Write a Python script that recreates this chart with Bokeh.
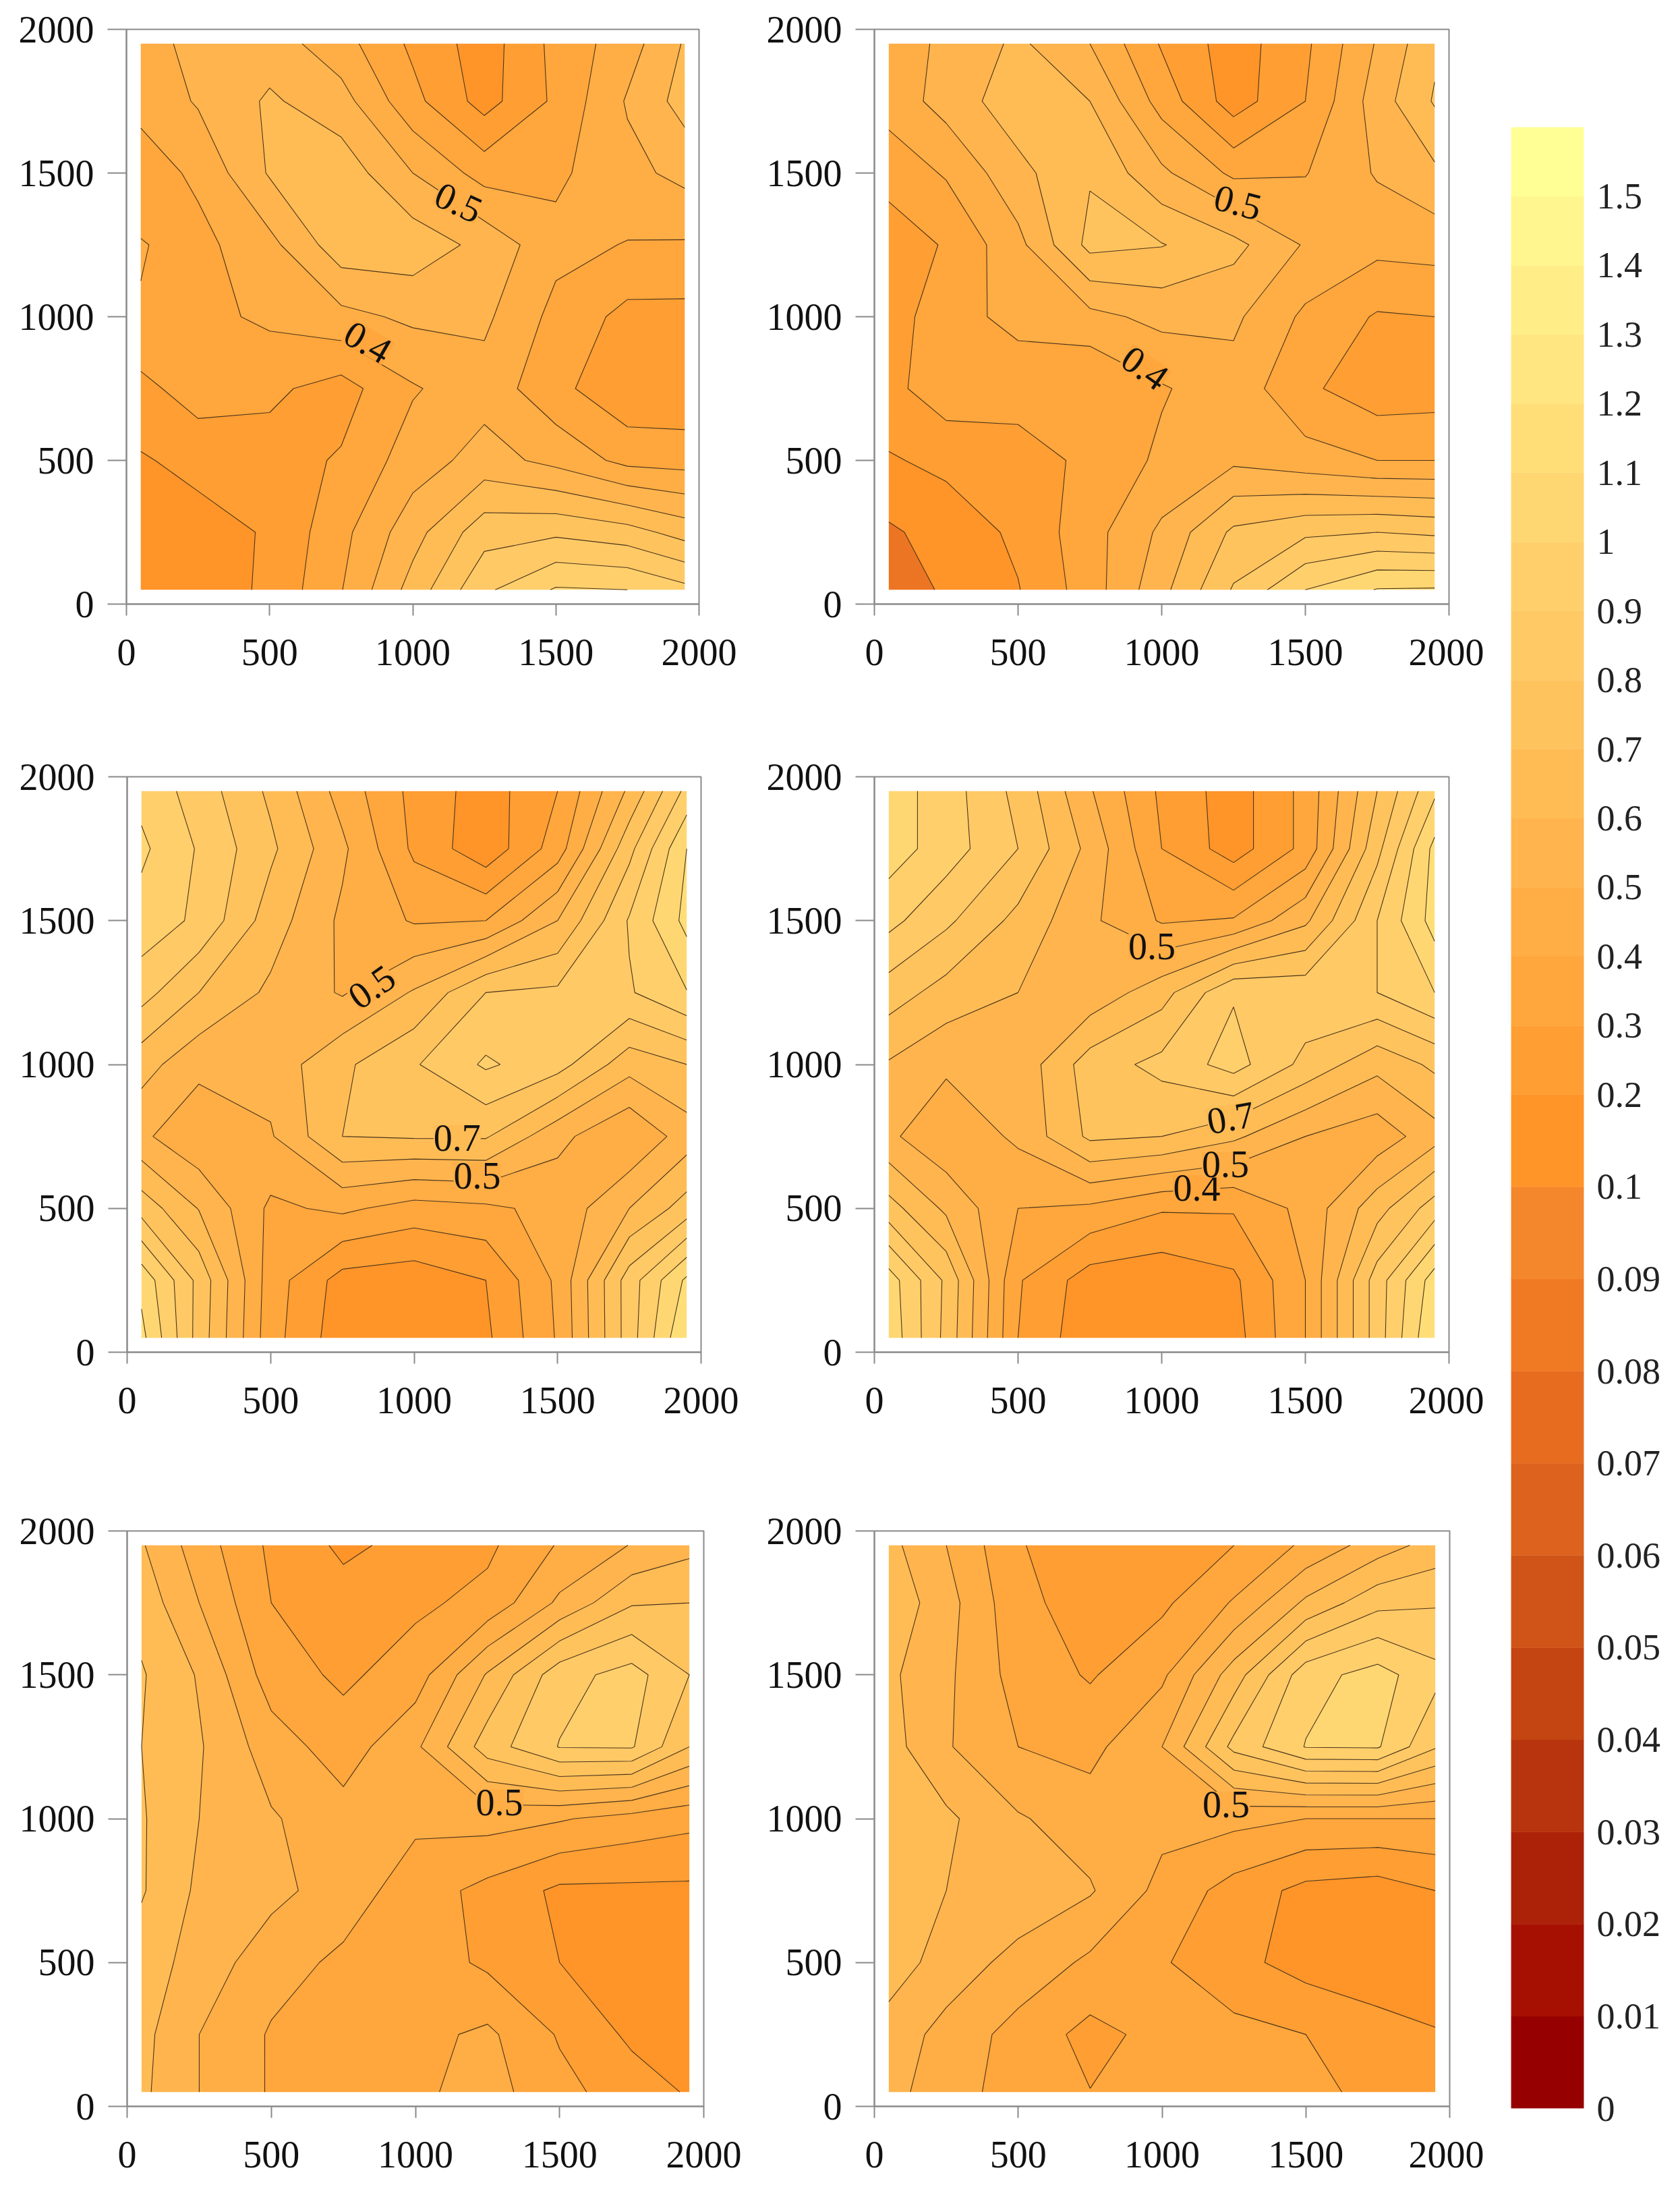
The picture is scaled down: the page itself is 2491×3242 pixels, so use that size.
import numpy as np
from bokeh.plotting import figure
from bokeh.layouts import row, column
from bokeh.models import FixedTicker, Range1d
from bokeh.core.properties import value
from bokeh.embed import file_html
from bokeh.resources import INLINE

grid_x = [50, 250, 500, 750, 1000, 1250, 1500, 1750, 1950]
grid_y = [1950, 1750, 1500, 1250, 1000, 750, 500, 250, 50]

panel_1 = [
 [.46,.53,.55,.44,.28,.15,.33,.455,.61],
 [.43,.51,.615,.54,.33,.16,.32,.51,.64],
 [.35,.42,.61,.66,.50,.36,.38,.47,.53],
 [.405,.37,.47,.66,.66,.57,.43,.395,.39],
 [.395,.37,.42,.47,.52,.52,.37,.27,.27],
 [.27,.35,.32,.26,.39,.46,.33,.22,.22],
 [.19,.23,.26,.31,.45,.54,.47,.37,.36],
 [.14,.16,.21,.37,.56,.76,.78,.74,.66],
 [.10,.14,.22,.395,.64,.88,1.01,1.0,.93],
]
panel_2 = [
 [.45,.52,.62,.50,.29,.15,.28,.51,.68],
 [.44,.54,.66,.60,.36,.15,.30,.55,.71],
 [.34,.41,.57,.69,.52,.38,.395,.51,.58],
 [.24,.31,.47,.73,.705,.63,.49,.43,.44],
 [.25,.36,.43,.47,.53,.52,.38,.29,.30],
 [.27,.36,.34,.30,.39,.46,.32,.24,.25],
 [.19,.225,.26,.32,.42,.48,.44,.40,.40],
 [.085,.14,.22,.36,.52,.72,.78,.80,.78],
 [.06,.11,.195,.35,.57,.81,1.0,1.105,1.11],
]
panel_3 = [
 [.97,.855,.68,.46,.27,.15,.30,.62,.93],
 [1.02,.89,.72,.52,.28,.13,.35,.77,1.10],
 [.96,.88,.65,.48,.39,.40,.60,.91,1.13],
 [.84,.70,.58,.49,.61,.80,.82,.89,.995],
 [.64,.53,.54,.68,.79,.915,.84,.64,.70],
 [.52,.42,.49,.70,.71,.71,.53,.405,.55],
 [.76,.595,.38,.42,.36,.38,.43,.60,.745],
 [1.07,.77,.35,.16,.14,.20,.42,.85,1.12],
 [1.13,.76,.34,.14,.12,.18,.41,.85,1.20],
]
panel_4 = [
 [1.05,.95,.77,.51,.28,.15,.33,.70,.98],
 [1.05,.95,.80,.57,.30,.15,.33,.77,1.13],
 [.93,.82,.67,.52,.39,.41,.58,.90,1.14],
 [.75,.66,.60,.53,.66,.89,.87,.90,1.00],
 [.59,.52,.53,.75,.83,.94,.77,.63,.72],
 [.52,.42,.52,.72,.70,.62,.50,.44,.56],
 [.74,.58,.40,.38,.31,.31,.43,.66,.85],
 [1.05,.78,.31,.15,.13,.18,.40,.85,1.15],
 [1.07,.77,.30,.13,.11,.16,.40,.85,1.20],
]
panel_5 = [
 [.61,.45,.28,.18,.23,.28,.41,.505,.57],
 [.66,.50,.30,.24,.28,.33,.52,.69,.70],
 [.71,.59,.35,.28,.35,.61,.86,.94,.80],
 [.70,.61,.45,.35,.48,.75,.905,.91,.70],
 [.71,.60,.51,.44,.42,.44,.41,.36,.33],
 [.71,.58,.53,.45,.35,.27,.18,.18,.18],
 [.65,.56,.44,.38,.36,.28,.20,.15,.13],
 [.63,.50,.39,.36,.37,.42,.29,.18,.12],
 [.62,.50,.39,.35,.38,.44,.33,.25,.19],
]
panel_6 = [
 [.63,.50,.31,.22,.25,.30,.42,.55,.64],
 [.67,.54,.33,.25,.28,.41,.62,.77,.79],
 [.62,.52,.36,.29,.38,.65,.96,1.04,.93],
 [.64,.51,.40,.37,.50,.83,1.005,1.01,.81],
 [.67,.62,.51,.45,.43,.43,.40,.40,.40],
 [.65,.60,.56,.51,.37,.26,.17,.15,.20],
 [.66,.55,.47,.38,.31,.23,.16,.12,.11],
 [.55,.47,.36,.27,.33,.33,.30,.25,.21],
 [.53,.45,.35,.302,.33,.34,.32,.28,.25],
]

levels = [0, .1, .2, .3, .4, .5, .6, .7, .8, .9, 1.0, 1.1, 1.2, 1.3, 1.4, 1.5, 1.6]
fill_colors = ["#EC7524", "#FF9429", "#FF9E33", "#FFA63C", "#FFAD45", "#FFB44E", "#FFBC55",
               "#FFC35E", "#FFC966", "#FFCF6C", "#FFD772", "#FFDE78", "#FFE680", "#FFEE87",
               "#FFF68F", "#FFFF96"]

bar_levels = [0, .01, .02, .03, .04, .05, .06, .07, .08, .09, .1, .2, .3, .4, .5, .6, .7,
              .8, .9, 1.0, 1.1, 1.2, 1.3, 1.4, 1.5, 1.6]
bar_labels = ["0", "0.01", "0.02", "0.03", "0.04", "0.05", "0.06", "0.07", "0.08", "0.09",
              "0.1", "0.2", "0.3", "0.4", "0.5", "0.6", "0.7", "0.8", "0.9", "1", "1.1",
              "1.2", "1.3", "1.4", "1.5", ""]
bar_colors = ["#960000", "#A61002", "#AC2208", "#B8340E", "#C44412", "#D05418", "#DC621E",
              "#E86C20", "#F07A24", "#F4862C"] + fill_colors[1:]

# text, x, y, angle in degrees, colour behind the label
labels_1 = [("0.5", 1160, 1398, -25, "#FFAD45"), ("0.4", 843, 912, -30, "#FFA63C")]
labels_2 = [("0.5", 1265, 1398, -15, "#FFAD45"), ("0.4", 942, 822, -35, "#FFA63C")]
labels_3 = [("0.5", 852, 1270, 35, "#FFAD45"), ("0.7", 1150, 745, 0, "#FFBC55"), ("0.5", 1220, 613, 0, "#FFAD45")]
labels_4 = [("0.5", 966, 1410, 0, "#FFAD45"), ("0.7", 1240, 815, 10, "#FFBC55"), ("0.4", 1122, 571, 0, "#FFA63C"), ("0.5", 1222, 652, 0, "#FFAD45")]
labels_5 = [("0.5", 1291, 1057, 0, "#FFAD45")]
labels_6 = [("0.5", 1223, 1049, 0, "#FFAD45")]

SERIF = "Liberation Serif"


def panel(z, labs, left, right, top, bottom, fw, fh):
    p = figure(width=left + fw + right, height=top + fh + bottom,
               x_range=Range1d(0, 2000), y_range=Range1d(0, 2000),
               toolbar_location=None, output_backend="svg",
               min_border_left=left, min_border_right=right,
               min_border_top=top, min_border_bottom=bottom)
    p.grid.visible = False
    p.outline_line_color = "#8a8a8a"
    p.outline_line_width = 2
    p.contour(grid_x, grid_y[::-1], np.flipud(np.array(z)), levels,
              fill_color=fill_colors, line_color="#4a3418", line_width=1.1)
    for t, x, y, a, c in labs:
        p.text([x], [y], text=[t], angle=[a], angle_units="deg",
               text_font=value(SERIF), text_font_size="56px", text_color="#111111",
               text_align="center", text_baseline="middle",
               background_fill_color=c, padding=0)
    for ax, tick_out, standoff in ((p.xaxis[0], 17, 35), (p.yaxis[0], 28, 20)):
        ax.ticker = FixedTicker(ticks=[0, 500, 1000, 1500, 2000])
        ax.minor_tick_line_color = None
        ax.major_tick_in = 0
        ax.major_tick_out = tick_out
        ax.major_tick_line_color = "#8a8a8a"
        ax.major_tick_line_width = 2
        ax.axis_line_color = "#8a8a8a"
        ax.axis_line_width = 2
        ax.major_label_text_font = SERIF
        ax.major_label_text_font_size = "56px"
        ax.major_label_text_color = "#111111"
        ax.major_label_standoff = standoff
    p.yaxis[0].major_label_orientation = "horizontal"
    return p


p1 = panel(panel_1, labels_1, 187, 64, 43, 205, 849, 852)
p2 = panel(panel_2, labels_2, 196, 52, 43, 205, 852, 852)
p3 = panel(panel_3, labels_3, 188, 61, 51, 216, 851, 853)
p4 = panel(panel_4, labels_4, 196, 52, 51, 216, 852, 853)
p5 = panel(panel_5, labels_5, 188, 57, 49, 112, 855, 853)
p6 = panel(panel_6, labels_6, 196, 51, 49, 112, 853, 853)

# colour bar: the ten finest bands and the 0.1-0.2 band are drawn a third taller
band_heights = [4 / 3 if lo < .2 - 1e-9 else 1.0 for lo in bar_levels[:-1]]
edges = np.concatenate([[0], np.cumsum(band_heights)])
cb = figure(width=280, height=3234, x_range=Range1d(0, 1), y_range=Range1d(0, float(edges[-1])),
            toolbar_location=None, output_backend="svg",
            min_border_left=40, min_border_right=132, min_border_top=188, min_border_bottom=109,
            y_axis_location="right")
cb.grid.visible = False
cb.outline_line_color = None
cb.xaxis.visible = False
cb.quad(left=0, right=1, bottom=edges[:-1], top=edges[1:], fill_color=bar_colors,
        line_color=bar_colors, line_width=0.5)
ax = cb.yaxis[0]
ax.ticker = FixedTicker(ticks=[float(e) for e in edges])
ax.major_label_overrides = {float(e): t for e, t in zip(edges, bar_labels)}
ax.axis_line_color = None
ax.major_tick_line_color = None
ax.minor_tick_line_color = None
ax.major_label_text_font = SERIF
ax.major_label_text_font_size = "54px"
ax.major_label_text_color = "#222222"
ax.major_label_standoff = 13

layout = row(column(row(p1, p2), row(p3, p4), row(p5, p6)), cb)
open("out.html", "w").write(file_html(layout, INLINE))
